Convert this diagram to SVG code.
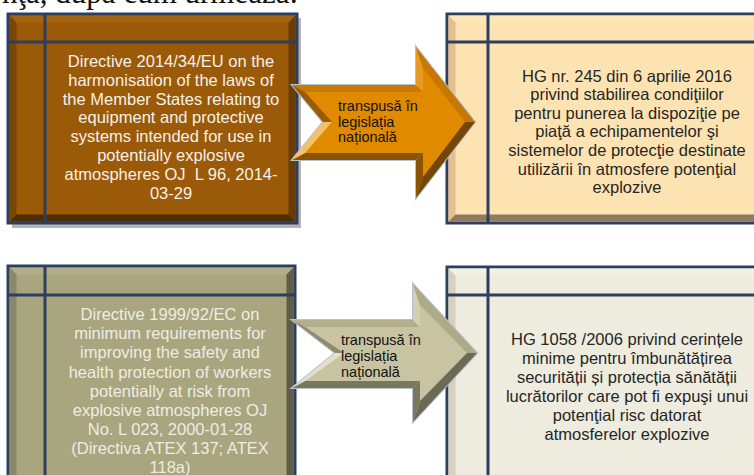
<svg xmlns="http://www.w3.org/2000/svg" width="754" height="475" viewBox="0 0 754 475">
<style>
.bx{stroke:#2c3f5e;stroke-width:3}
.ln{stroke:#2c3f5e;stroke-width:3;fill:none}
.t{font-family:"Liberation Sans",Arial,sans-serif;font-size:16.5px;text-anchor:middle}
.at{font-family:"Liberation Sans",Arial,sans-serif;font-size:14.5px;fill:#111}
.ao{stroke:#b8c3d0;stroke-width:2;stroke-linejoin:miter}
</style>
<rect width="754" height="475" fill="#fff"/>
<text x="2" y="3" font-family="Liberation Serif,Times New Roman,serif" font-size="31" fill="#111">nţa, după cum urmează:</text>

<g id="node-directive-2014">
<rect x="12" y="18" width="289" height="210" fill="#b4b4b4"/>
<rect class="bx" x="8" y="14" width="289" height="209" fill="#9a5a07"/>
<polygon points="9.5,15.5 295.5,15.5 288.5,22.5 16.5,22.5" fill="#a4630c"/>
<polygon points="9.5,15.5 16.5,22.5 16.5,214.5 9.5,221.5" fill="#7a4606"/>
<polygon points="295.5,15.5 295.5,221.5 288.5,214.5 288.5,22.5" fill="#6a3c05"/>
<polygon points="9.5,221.5 16.5,214.5 288.5,214.5 295.5,221.5" fill="#4f2e07"/>
<line class="ln" x1="45" y1="15" x2="45" y2="222"/>
<line class="ln" x1="9" y1="42" x2="296" y2="42"/>
<g class="t" fill="#f6f1ea">
<text x="171" y="66.7">Directive 2014/34/EU on the</text>
<text x="171" y="86">harmonisation of the laws of</text>
<text x="171" y="104.5">the Member States relating to</text>
<text x="171" y="123.3">equipment and protective</text>
<text x="171" y="142">systems intended for use in</text>
<text x="171" y="161">potentially explosive</text>
<text x="171" y="180" xml:space="preserve">atmospheres OJ  L 96, 2014-</text>
<text x="171" y="198.5">03-29</text>
</g>
</g>

<g id="node-hg-245">
<rect class="bx" x="447" y="14" width="320" height="209" fill="#fde3b1"/>
<polygon points="448.5,15.5 770,15.5 770,22.5 455.5,22.5" fill="#fde6b8"/>
<polygon points="448.5,15.5 455.5,22.5 455.5,214.5 448.5,221.5" fill="#e6bf8e"/>
<polygon points="448.5,221.5 455.5,214.5 770,214.5 770,221.5" fill="#8e7b60"/>
<line class="ln" x1="488" y1="15" x2="488" y2="222"/>
<line class="ln" x1="448" y1="42" x2="770" y2="42"/>
<g class="t" fill="#262626">
<text x="627" y="81.7">HG nr. 245 din 6 aprilie 2016</text>
<text x="627" y="100">privind stabilirea condiţiilor</text>
<text x="627" y="118.5">pentru punerea la dispoziţie pe</text>
<text x="627" y="137.3">piaţă a echipamentelor şi</text>
<text x="627" y="156">sistemelor de protecţie destinate</text>
<text x="627" y="175">utilizării în atmosfere potenţial</text>
<text x="627" y="193.3">explozive</text>
</g>
</g>

<g id="node-directive-1999">
<rect class="bx" x="8" y="266" width="287" height="220" fill="#a8a57f"/>
<polygon points="9.5,267.5 293.5,267.5 286.5,274.5 16.5,274.5" fill="#b0ad88"/>
<polygon points="9.5,267.5 16.5,274.5 16.5,480 9.5,480" fill="#8a876a"/>
<polygon points="293.5,267.5 293.5,480 286.5,480 286.5,274.5" fill="#5f5d48"/>
<line class="ln" x1="45" y1="267" x2="45" y2="480"/>
<line class="ln" x1="9" y1="295" x2="294" y2="295"/>
<g class="t" fill="#eeede2">
<text x="170" y="320">Directive 1999/92/EC on</text>
<text x="170" y="339.2">minimum requirements for</text>
<text x="170" y="358.3">improving the safety and</text>
<text x="170" y="377.5">health protection of workers</text>
<text x="170" y="396.7">potentially at risk from</text>
<text x="170" y="415.8">explosive atmospheres OJ</text>
<text x="170" y="435">No. L 023, 2000-01-28</text>
<text x="170" y="454">(Directiva ATEX 137; ATEX</text>
<text x="170" y="472.5">118a)</text>
</g>
</g>

<g id="node-hg-1058">
<rect class="bx" x="447" y="267" width="320" height="220" fill="#eeebdf"/>
<polygon points="448.5,268.5 770,268.5 770,275.5 455.5,275.5" fill="#f3f0e6"/>
<polygon points="448.5,268.5 455.5,275.5 455.5,480 448.5,480" fill="#d6d1be"/>
<line class="ln" x1="488" y1="268" x2="488" y2="480"/>
<line class="ln" x1="448" y1="295" x2="770" y2="295"/>
<g class="t" fill="#262626">
<text x="627" y="345">HG 1058 /2006 privind cerințele</text>
<text x="627" y="364">minime pentru îmbunătățirea</text>
<text x="627" y="383">securității și protecția sănătății</text>
<text x="627" y="402">lucrătorilor care pot fi expuşi unui</text>
<text x="627" y="421">potenţial risc datorat</text>
<text x="627" y="440">atmosferelor explozive</text>
</g>
</g>

<g id="connectors">
<g id="arrow-top">
<polygon class="ao" points="292,85 416,85 416,47 475,122 416,198 416,160 292,160 323,122" fill="#e08a00"/>
<polygon points="292,85 416,85 423,92 305,92" fill="#c97a00"/>
<polygon points="416,85 416,47 423,68 423,92" fill="#e89a20"/>
<polygon points="416,47 475,122 465,122 423,68" fill="#c67800"/>
<polygon points="475,122 416,198 423,177 465,122" fill="#74460a"/>
<polygon points="416,198 416,160 423,153 423,177" fill="#8a5306"/>
<polygon points="416,160 292,160 305,153 423,153" fill="#8a5306"/>
<polygon points="292,160 323,122 332,122 305,153" fill="#f4c068"/>
<polygon points="323,122 292,85 305,92 332,122" fill="#9a5c02"/>
<text class="at" x="338" y="111">transpusă în</text>
<text class="at" x="338" y="126.5">legislația</text>
<text class="at" x="338" y="142">națională</text>
</g>
<g id="arrow-bottom">
<polygon class="ao" points="292,320 413,320 413,284 477,353 413,422 413,388 292,388 335,353" fill="#c8c4a2"/>
<polygon points="292,320 413,320 420,327 305,327" fill="#b3af8d"/>
<polygon points="413,320 413,284 420,305 420,327" fill="#d3d0b2"/>
<polygon points="413,284 477,353 467,353 420,305" fill="#aeaa88"/>
<polygon points="477,353 413,422 420,401 467,353" fill="#6c6954"/>
<polygon points="413,422 413,388 420,381 420,401" fill="#7a775f"/>
<polygon points="413,388 292,388 305,381 420,381" fill="#7a775f"/>
<polygon points="292,388 335,353 344,353 305,381" fill="#e2dfcb"/>
<polygon points="335,353 292,320 305,327 344,353" fill="#8e8b70"/>
<text class="at" x="341" y="345">transpusă în</text>
<text class="at" x="341" y="361">legislația</text>
<text class="at" x="341" y="377">națională</text>
</g>
</g>
</svg>
